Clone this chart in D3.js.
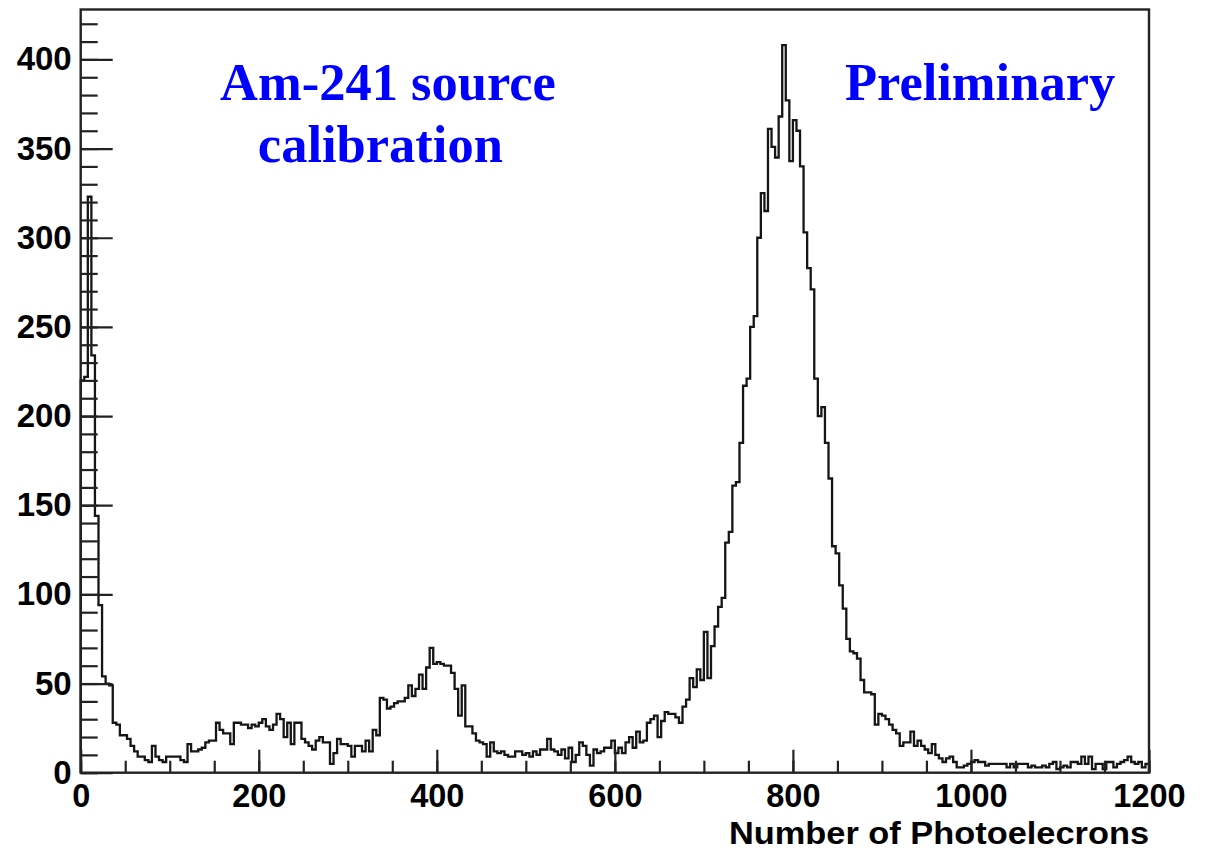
<!DOCTYPE html>
<html>
<head>
<meta charset="utf-8">
<script src="https://cdn.jsdelivr.net/npm/d3@7"></script>
<style>
  html, body { margin: 0; padding: 0; background: #ffffff; }
  svg { display: block; }
  .tick-label { font-family: "Liberation Sans", Arial, Helvetica, sans-serif; font-weight: bold; }
  .note { font-family: "Liberation Serif", "Times New Roman", serif; font-weight: bold; fill: #0000ff; }
</style>
</head>
<body>
<svg id="chart" width="1206" height="850"></svg>
<script>
// Am-241 calibration spectrum: counts per 4-photoelectron bin, 0 .. 1200 p.e.
const binWidth = 4;
const counts = [
  220,222,323,234,144,94,54,50,49,28,
  27,21,21,19,15,12,9,9,7,6,
  15,9,7,6,9,9,9,9,7,6,
  16,12,12,13,14,17,18,18,28,24,
  22,22,16,28,28,27,27,25,27,26,
  28,30,26,24,27,33,30,20,28,16,
  28,28,19,17,15,13,18,20,17,17,
  5,11,19,16,16,15,9,15,15,12,
  18,12,24,21,42,41,36,37,39,40,
  40,42,49,43,47,55,47,59,70,61,
  62,61,60,60,56,47,32,49,26,26,
  22,18,17,16,9,17,12,11,12,10,
  9,9,12,12,10,11,9,12,10,13,
  13,19,13,12,10,13,8,14,6,10,
  17,15,10,4,13,11,12,14,14,18,
  11,14,11,17,20,14,23,17,18,28,
  30,32,20,29,34,33,33,31,28,37,
  41,53,48,58,52,79,53,71,82,93,
  98,129,135,161,163,185,217,221,250,256,
  300,325,315,361,351,345,368,408,377,343,
  366,360,340,303,283,271,221,200,205,185,
  165,127,123,105,92,75,68,67,64,52,
  45,45,44,27,33,32,30,27,24,22,
  15,17,17,23,15,18,15,13,11,16,
  10,8,6,8,9,6,3,3,4,5,
  6,7,6,6,4,5,5,5,5,5,
  3,5,3,5,5,5,3,4,3,3,
  4,3,5,6,2,3,4,3,6,6,
  5,9,5,9,2,5,5,2,6,6,
  3,5,6,7,9,6,5,6,3,5
];

const xDomain = [0, 1200];
const yDomain = [0, 428];
const xMajorTicks = [0, 200, 400, 600, 800, 1000, 1200];
const xMinorTicks = d3.range(0, 1201, 50);
const yMajorTicks = [0, 50, 100, 150, 200, 250, 300, 350, 400];
const yMinorTicks = d3.range(0, 421, 10);
const xTitle = "Number of Photoelecrons";
const notes = [
  { text: "Am-241 source", x: 156.5, y: 377 },
  { text: "calibration",   x: 199,   y: 342.6 },
  { text: "Preliminary",   x: 858.5, y: 377 }
];

const svg = d3.select("#chart");
const frame = { left: 80.7, right: 1149, top: 9.5, bottom: 772.7 };

const x = d3.scaleLinear().domain(xDomain).range([frame.left, frame.right]);
const y = d3.scaleLinear().domain(yDomain).range([frame.bottom, frame.top]);

// histogram outline as a step path, starting and ending on the baseline
const pts = [[0, 0]];
counts.forEach((c, i) => {
  pts.push([i * binWidth, c]);
  pts.push([(i + 1) * binWidth, c]);
});
pts.push([counts.length * binWidth, 0]);

const line = d3.line().x(d => x(d[0])).y(d => y(d[1]));

svg.append("path")
  .datum(pts)
  .attr("d", line)
  .attr("fill", "none")
  .attr("stroke", "#151515")
  .attr("stroke-width", 2.3)
  .attr("stroke-linejoin", "miter");

// minor ticks
svg.append("g")
  .attr("transform", `translate(0,${frame.bottom})`)
  .call(d3.axisBottom(x).tickValues(xMinorTicks).tickSize(-12).tickFormat(""))
  .call(g => g.select(".domain").remove())
  .call(g => g.selectAll("line").attr("stroke", "#222").attr("stroke-width", 2.2));

svg.append("g")
  .attr("transform", `translate(${frame.left},0)`)
  .call(d3.axisLeft(y).tickValues(yMinorTicks).tickSize(-17).tickFormat(""))
  .call(g => g.select(".domain").remove())
  .call(g => g.selectAll("line").attr("stroke", "#222").attr("stroke-width", 2.2));

// major ticks with labels
svg.append("g")
  .attr("transform", `translate(0,${frame.bottom})`)
  .call(d3.axisBottom(x).tickValues(xMajorTicks).tickSize(-23).tickPadding(11).tickFormat(d3.format("d")))
  .call(g => g.select(".domain").remove())
  .call(g => g.selectAll("line").attr("stroke", "#222").attr("stroke-width", 2.2))
  .call(g => g.selectAll("text")
    .attr("class", "tick-label")
    .attr("fill", "#000")
    .style("font-size", "32.5px"));

svg.append("g")
  .attr("transform", `translate(${frame.left},0)`)
  .call(d3.axisLeft(y).tickValues(yMajorTicks).tickSize(-32).tickPadding(9).tickFormat(d3.format("d")))
  .call(g => g.select(".domain").remove())
  .call(g => g.selectAll("line").attr("stroke", "#222").attr("stroke-width", 2.2))
  .call(g => g.selectAll("text")
    .attr("class", "tick-label")
    .attr("fill", "#000")
    .style("font-size", "33px"));

// frame
svg.append("rect")
  .attr("x", frame.left)
  .attr("y", frame.top)
  .attr("width", frame.right - frame.left)
  .attr("height", frame.bottom - frame.top)
  .attr("fill", "none")
  .attr("stroke", "#222")
  .attr("stroke-width", 2.4);

// axis title
svg.append("text")
  .attr("class", "tick-label")
  .attr("x", frame.right)
  .attr("y", 844)
  .attr("text-anchor", "end")
  .attr("textLength", 420)
  .attr("lengthAdjust", "spacingAndGlyphs")
  .style("font-size", "31px")
  .attr("fill", "#000")
  .text(xTitle);

// annotations
svg.selectAll("text.note")
  .data(notes)
  .join("text")
  .attr("class", "note")
  .attr("x", d => x(d.x))
  .attr("y", d => y(d.y))
  .style("font-size", "52.5px")
  .text(d => d.text);
</script>
</body>
</html>
